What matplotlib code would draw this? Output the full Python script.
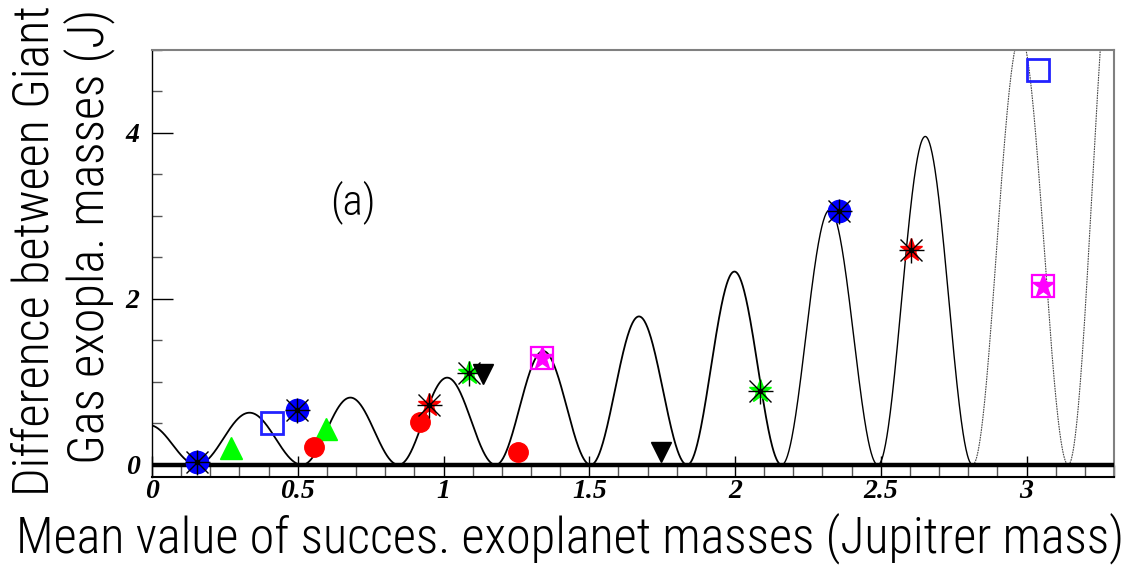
import numpy as np
import matplotlib
matplotlib.use('Agg')
import matplotlib.pyplot as plt
from matplotlib import font_manager
from matplotlib.ticker import MultipleLocator

# model curve: zeros of each lobe and the lobe heights
lobe_zeros = [-0.176, 0.154, 0.515, 0.846, 1.179, 1.505, 1.836, 2.160, 2.490, 2.815, 3.143, 3.47]
lobe_peaks = [0.48, 0.628, 0.81, 1.05, 1.37, 1.787, 2.327, 3.07, 3.953, 5.17, 6.6]

# measured points
blue_circ_x = [0.154, 0.499, 2.355]
blue_circ_y = [0.034, 0.665, 3.05]
blue_sq_x = [0.411, 3.039]
blue_sq_y = [0.504, 4.75]
green_tri_x = [0.272, 0.598]
green_tri_y = [0.207, 0.428]
red_circ_x = [0.556, 0.919, 1.255]
red_circ_y = [0.215, 0.52, 0.15]
red_star_x = [0.950, 2.604]
red_star_y = [0.717, 2.59]
green_star_x = [1.087, 2.084]
green_star_y = [1.11, 0.894]
black_tri_x = [1.135, 1.745]
black_tri_y = [1.09, 0.149]
mag_x = [1.337, 3.057]
mag_y = [1.29, 2.15]

x_ticks = [0, 0.5, 1, 1.5, 2, 2.5, 3]
x_ticklabels = ['0', '0.5', '1', '1.5', '2', '2.5', '3']
y_ticks = [0, 2, 4]
y_ticklabels = ['0', '2', '4']

W, H = 1139, 566

# pick a narrow sans font if there is one
names = {f.name for f in font_manager.fontManager.ttflist}
label_font = next((n for n in ['Liberation Sans Narrow', 'Roboto Condensed', 'DejaVu Sans']
                   if n in names), 'DejaVu Sans')

fig = plt.figure(figsize=(W / 100, H / 100), dpi=100)
ax = fig.add_axes([152 / W, 1 - 476.5 / H, (1114 - 152) / W, (476.5 - 49.5) / H])
ax.set_xlim(0, 3.3)
ax.set_ylim(-0.14, 5.0)

# curve, one lobe at a time
for i in range(len(lobe_peaks)):
    a, b = lobe_zeros[i], lobe_zeros[i + 1]
    xs = np.linspace(a, b, 200)
    ys = lobe_peaks[i] * np.sin(np.pi * (xs - a) / (b - a)) ** 2
    if i >= 9:
        ax.plot(xs, ys, color='#444444', lw=0.8, ls=(0, (1.5, 0.8)), zorder=2)
    elif i >= 7:
        ax.plot(xs, ys, color='black', lw=1.0, zorder=2)
    else:
        ax.plot(xs, ys, color='black', lw=1.3, zorder=2)

ax.axhline(0, color='black', lw=3.2, zorder=3)

def asterisk(xs, ys, size=17):
    ax.plot(xs, ys, ls='none', marker='+', ms=size, mec='black', mew=1.0, zorder=6)
    ax.plot(xs, ys, ls='none', marker='x', ms=size * 0.85, mec='black', mew=1.0, zorder=6)
    ax.plot(xs, ys, ls='none', marker='o', ms=3, mfc='black', mec='black', zorder=6)

ax.plot(blue_circ_x, blue_circ_y, ls='none', marker='o', ms=16, mfc='#0000ff', mec='#0000ff', zorder=5)
asterisk(blue_circ_x, blue_circ_y, 18)

ax.plot(blue_sq_x, blue_sq_y, ls='none', marker='s', ms=16, mfc='none', mec='#2222ff', mew=2.0, zorder=5)

ax.plot(green_tri_x, green_tri_y, ls='none', marker='^', ms=16, mfc='#00ff00', mec='#00ff00', zorder=5)

ax.plot(red_circ_x, red_circ_y, ls='none', marker='o', ms=14, mfc='#ff0000', mec='#ff0000', zorder=5)

ax.plot(red_star_x, red_star_y, ls='none', marker='*', ms=17, mfc='#ff0000', mec='#ff0000', zorder=5)
asterisk(red_star_x, red_star_y, 18)

ax.plot(green_star_x, green_star_y, ls='none', marker='*', ms=17, mfc='#00ff00', mec='#00ff00', zorder=5)
asterisk(green_star_x, green_star_y, 18)

ax.plot(black_tri_x, black_tri_y, ls='none', marker='v', ms=15, mfc='black', mec='black', zorder=5)

ax.plot(mag_x, mag_y, ls='none', marker='s', ms=16, mfc='none', mec='#ff00ff', mew=1.6, zorder=5)
ax.plot(mag_x, mag_y, ls='none', marker='*', ms=17, mfc='#ff00ff', mec='#ff00ff', zorder=5)

ax.text(0.69, 3.16, '(a)', fontsize=31, family=label_font, fontstretch='condensed',
        fontweight='light', ha='center', va='center')

# axes look
ax.set_xticks(x_ticks)
ax.set_xticklabels(x_ticklabels)
ax.set_yticks(y_ticks)
ax.set_yticklabels(y_ticklabels)
ax.xaxis.set_minor_locator(MultipleLocator(0.1))
ax.yaxis.set_minor_locator(MultipleLocator(0.5))
ax.tick_params(which='major', direction='in', length=15, width=1.0, color='black')
ax.tick_params(which='minor', direction='in', length=8.5, width=1.0, color='#555555')
ax.tick_params(axis='y', which='minor', length=7.5)
ax.tick_params(axis='x', which='both', pad=2)
ax.tick_params(axis='y', which='both', pad=9)
ax.tick_params(top=False, right=False)
for lab in ax.get_xticklabels() + ax.get_yticklabels():
    lab.set_fontfamily('Liberation Serif')
    lab.set_fontweight('bold')
    lab.set_fontstyle('italic')
    lab.set_fontsize(20)

ax.spines['left'].set_color('black')
ax.spines['left'].set_linewidth(1.0)
ax.spines['bottom'].set_color('black')
ax.spines['bottom'].set_linewidth(1.5)
ax.spines['top'].set_color('#808080')
ax.spines['top'].set_linewidth(1.5)
ax.spines['right'].set_color('#808080')
ax.spines['right'].set_linewidth(1.5)

# axis titles, ROOT style: anchored at the far end
xl = fig.text(1124 / W, 1 - 552 / H, 'Mean value of succes. exoplanet masses (Jupitrer mass)',
              family=label_font, fontstretch='condensed', fontweight='light', fontsize=32,
              ha='right', va='baseline')
fig.canvas.draw()
r = fig.canvas.get_renderer()
w = xl.get_window_extent(r).width
fs = 32 * (1124 - 12) / w
xl.set_fontsize(fs)

fig.text(49 / W, 1 - 5 / H, 'Difference between Giant', family=label_font,
         fontstretch='condensed', fontweight='light', fontsize=fs, rotation=90,
         rotation_mode='anchor', ha='right', va='baseline')
fig.text(103 / W, 1 - 9 / H, 'Gas exopla. masses (J)', family=label_font,
         fontstretch='condensed', fontweight='light', fontsize=fs, rotation=90,
         rotation_mode='anchor', ha='right', va='baseline')

fig.savefig('out.png', dpi=100)
